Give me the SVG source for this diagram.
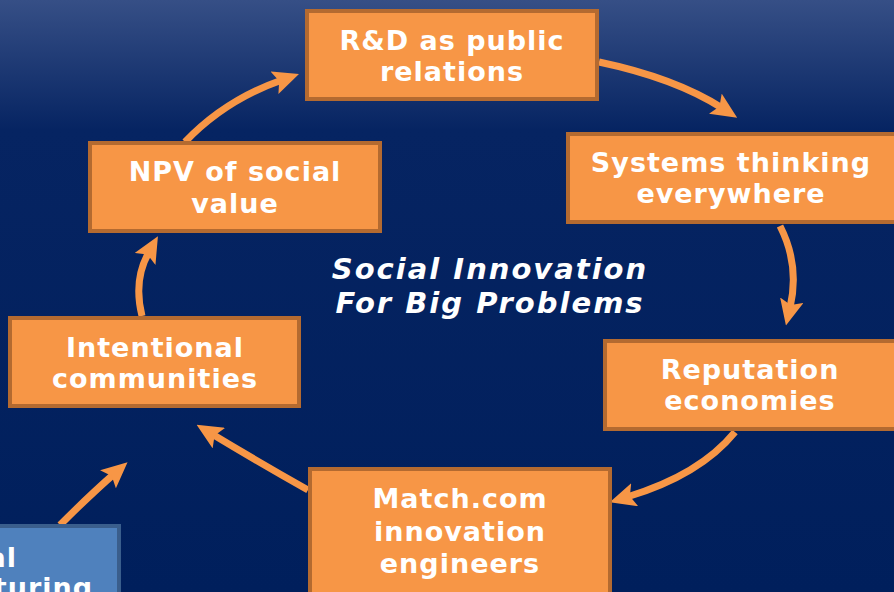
<svg xmlns="http://www.w3.org/2000/svg" width="894" height="592" viewBox="0 0 894 592">
<defs>
<linearGradient id="bg" x1="0" y1="0" x2="0" y2="1" gradientUnits="objectBoundingBox">
<stop offset="0" stop-color="#364f86"/>
<stop offset="0.22" stop-color="#062462"/>
<stop offset="1" stop-color="#001f5c"/>
</linearGradient>
<marker id="ah" viewBox="0 0 26 24" refX="8" refY="12" markerWidth="26" markerHeight="24" markerUnits="userSpaceOnUse" orient="auto">
<path d="M0,0 L26,12 L0,24 L5,12 z" fill="#f79646"/>
</marker>
<style>
.box{fill:#f79646;stroke:#b46a30;stroke-width:4}
.blue{fill:#4f81bd;stroke:#3a5e8c;stroke-width:4}
.t{font-family:"DejaVu Sans",Verdana,sans-serif;font-weight:bold;font-size:27px;fill:#ffffff;text-anchor:middle;letter-spacing:1px}
.c{font-family:"DejaVu Sans",Verdana,sans-serif;font-weight:bold;font-style:italic;font-size:29px;fill:#ffffff;text-anchor:middle;letter-spacing:2px}
.arr{fill:none;stroke:#f79646;stroke-width:7;marker-end:url(#ah)}
</style>
</defs>
<rect x="0" y="0" width="894" height="592" fill="url(#bg)"/>
<g id="connectors">
<path class="arr" d="M185,142 Q225,100 282,80"/>
<path class="arr" d="M599,62 Q675,78 722,108"/>
<path class="arr" d="M780,226 Q800,265 790,308"/>
<path class="arr" d="M735,432 Q700,475 627,497"/>
<path class="arr" d="M308,490 Q255,460 212,434"/>
<path class="arr" d="M142,316 Q133,280 149,252"/>
<path class="arr" d="M60,525 Q90,495 114,474"/>
</g>
<g id="rd">
<rect class="box" x="307" y="11" width="290" height="88"/>
<text class="t" x="452" y="50">R&amp;D as public</text>
<text class="t" x="452" y="81">relations</text>
</g>
<g id="systems">
<rect class="box" x="568" y="134" width="330" height="88"/>
<text class="t" x="731" y="172">Systems thinking</text>
<text class="t" x="731" y="203">everywhere</text>
</g>
<g id="reputation">
<rect class="box" x="605" y="341" width="293" height="88"/>
<text class="t" x="750" y="379">Reputation</text>
<text class="t" x="750" y="410">economies</text>
</g>
<g id="match">
<rect class="box" x="310" y="469" width="300" height="130"/>
<text class="t" x="460" y="508">Match.com</text>
<text class="t" x="460" y="541">innovation</text>
<text class="t" x="460" y="573">engineers</text>
</g>
<g id="intentional">
<rect class="box" x="10" y="318" width="289" height="88"/>
<text class="t" x="155" y="357">Intentional</text>
<text class="t" x="155" y="388">communities</text>
</g>
<g id="npv">
<rect class="box" x="90" y="143" width="290" height="88"/>
<text class="t" x="235" y="181">NPV of social</text>
<text class="t" x="235" y="213">value</text>
</g>
<g id="manufacturing">
<rect class="blue" x="-10" y="526" width="129" height="80"/>
<text class="t" x="17" y="567" style="text-anchor:end">al</text>
<text class="t" x="93" y="597" style="text-anchor:end">turing</text>
</g>
<g id="title">
<text class="c" x="490" y="279">Social Innovation</text>
<text class="c" x="490" y="313">For Big Problems</text>
</g>
</svg>
